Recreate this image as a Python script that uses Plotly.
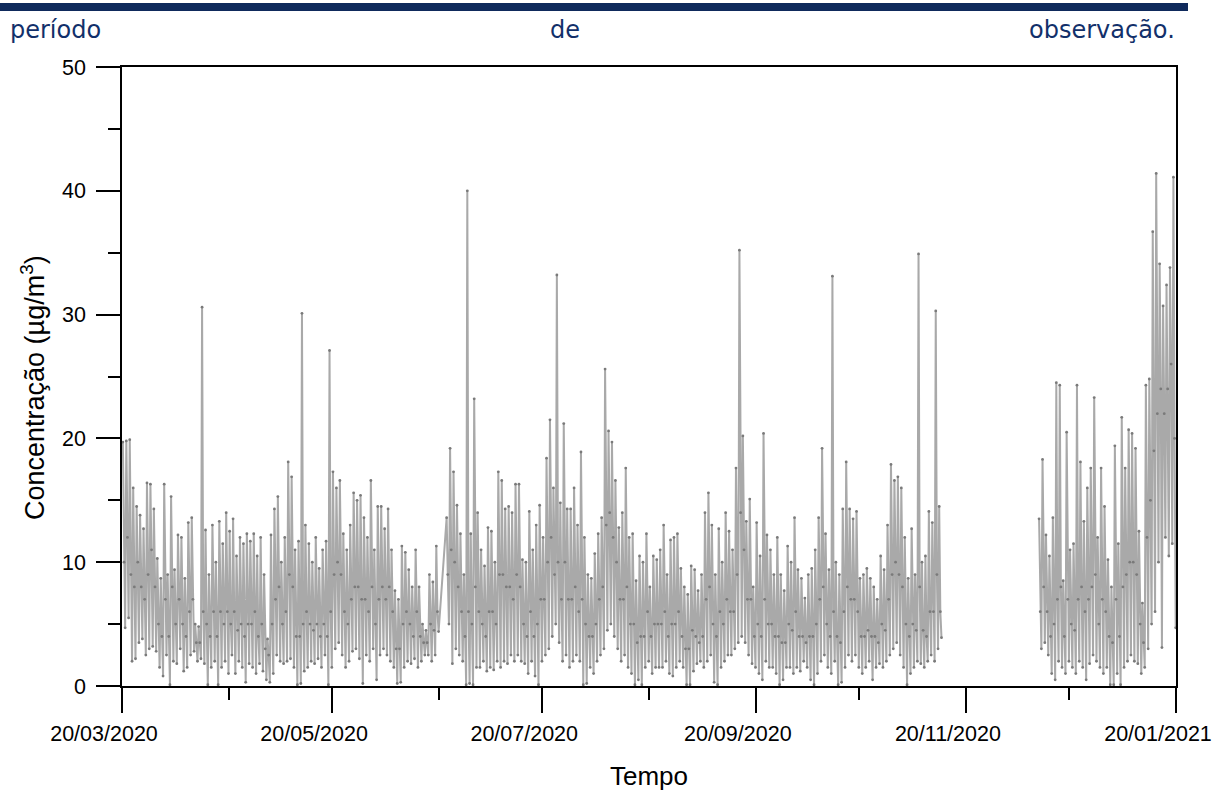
import plotly.graph_objects as go
from datetime import datetime, timedelta

# ---------------- data (daily high / mid / low readings, µg/m3) ----------------
# period 1: 20/03/2020 .. 13/11/2020 (None = missing days, line bridges them)
p1_start = "2020-03-20"
high_p1 = [
    19.7, 19.8, 19.9, 16.0, 14.5, 13.8, 12.7, 16.4, 16.3, 14.3,
    10.3, 8.7, 16.3, 9.0, 15.3, 9.4, 12.2, 12.0, 8.7, 13.2,
    13.6, 5.0, 4.8, 30.6, 12.6, 9.0, 13.0, 10.0, 13.3, 11.5,
    14.0, 12.5, 13.5, 10.5, 12.0, 11.5, 12.3, 11.7, 12.3, 10.5,
    12.0, 9.0, 3.8, 12.2, 14.3, 15.3, 10.0, 12.0, 18.1, 16.9,
    11.0, 11.7, 30.1, 13.0, 11.5, 10.0, 12.0, 9.5, 11.0, 11.7,
    27.1, 17.3, 16.0, 16.6, 12.3, 11.0, 13.0, 15.6, 15.0, 15.4,
    13.6, 12.0, 16.6, 11.0, 14.5, 14.5, 12.7, 14.3, 11.0, 7.7,
    7.0, 11.3, 10.8, 9.4, 8.0, 11.0, 8.0, 5.0, 4.5, 9.0,
    8.4, 11.3, None, None, 13.6, 19.2, 17.3, 14.6, 12.3, 9.0,
    40.0, 12.3, 23.2, 14.0, 11.0, 9.7, 12.8, 12.5, 10.0, 17.3,
    16.6, 14.3, 14.5, 14.0, 16.3, 16.3, 10.2, 10.0, 14.1, 11.0,
    13.0, 14.6, 12.0, 18.4, 21.5, 16.0, 33.2, 14.8, 21.2, 14.3,
    14.3, 16.0, 13.0, 18.9, 12.0, 9.0, 8.7, 10.7, 12.3, 13.6,
    25.6, 20.6, 19.7, 16.6, 12.8, 14.0, 17.6, 12.0, 12.3, 8.5,
    10.5, 10.0, 12.3, 8.0, 10.5, 10.2, 11.0, 13.0, 9.0, 11.8,
    12.0, 12.3, 9.5, 8.0, 7.4, 9.7, 9.4, 7.7, 9.0, 14.0,
    15.6, 13.0, 9.0, 12.7, 10.0, 14.0, 12.5, 11.0, 17.6, 35.2,
    20.2, 13.3, 15.1, 8.0, 13.2, 10.5, 20.4, 12.2, 11.0, 9.0,
    12.0, 9.0, 7.7, 11.3, 10.0, 13.6, 9.4, 8.7, 7.1, 9.0,
    9.5, 11.0, 13.6, 19.2, 12.3, 9.4, 33.1, 10.0, 9.0, 14.3,
    18.1, 14.3, 13.5, 14.1, 8.7, 9.0, 9.5, 8.7, 8.0, 7.0,
    10.5, 9.4, 13.0, 17.9, 16.6, 16.9, 16.0, 12.0, 8.7, 12.7,
    9.0, 34.9, 10.0, 10.5, 14.1, 13.2, 30.3, 14.5,
]
mid_p1 = [
    10, 12, 9, 8, 10, 8, 7, 9, 11, 8,
    5, 4, 7, 4, 8, 5, 7, 5, 4, 6,
    7, 3.5, 3.5, 6, 5, 4, 6, 4, 6, 5,
    6, 5, 6, 4.5, 5, 4, 5, 5, 6, 4,
    5, 3, 2.5, 5, 7, 8, 5, 6, 9, 8,
    4, 4, 5, 6, 5, 4.5, 5, 4, 5, 4,
    6, 9, 10, 9, 6, 5, 7, 8, 8, 7,
    7, 6, 8, 5, 7, 8, 7, 8, 6, 3,
    3, 5, 6, 5, 4, 6, 4, 3.5, 3.5, 5,
    4.5, 6, None, None, 9, 11, 10, 8, 6, 4,
    6, 5, 8, 6, 5, 4, 6, 6, 5, 9,
    9, 8, 8, 7, 9, 8, 5, 4, 6, 4,
    5, 7, 7, 10, 12, 9, 10, 7, 10, 7,
    7, 8, 6, 7, 5, 4, 4, 5, 7, 8,
    13, 14, 12, 10, 7, 7, 8, 5, 5, 3.5,
    4, 4, 6, 4, 5, 5, 5, 6, 4, 5,
    5, 6, 4, 3, 3, 4.5, 4, 3.5, 4, 7,
    8, 5, 4, 6, 5, 7, 6, 6, 9, 14,
    11, 7, 7, 4, 5, 4, 7, 5, 5, 4,
    4, 3.5, 3.5, 5, 4.5, 6, 4, 4, 3.5, 4,
    4, 5, 7, 8, 5, 4, 6, 4, 3.5, 6,
    8, 7, 7, 6, 4, 4, 4.5, 4, 4, 3.5,
    5, 4.5, 7, 9, 10, 9, 8, 5, 4, 5,
    4.5, 8, 4.5, 4, 6, 6, 9, 6,
]
low_p1 = [
    4.7, 5.5, 2.0, 2.2, 3.5, 3.8, 2.5, 3.0, 3.2, 2.8,
    1.5, 0.8, 2.5, 0.1, 2.0, 1.8, 3.0, 1.2, 1.5, 2.5,
    2.8, 2.0, 2.2, 1.8, 0.1, 1.5, 2.0, 0.1, 1.5, 2.0,
    1.0, 2.5, 1.0, 2.0, 1.5, 0.3, 1.8, 1.5, 1.0, 1.8,
    1.2, 0.5, 0.3, 1.0, 2.5, 2.0, 1.8, 2.0, 2.2, 1.5,
    0.1, 0.2, 1.2, 1.5, 2.0, 1.8, 2.2, 1.5, 2.5, 0.1,
    1.5, 3.0, 3.5, 2.5, 1.5, 2.0, 2.8, 3.0, 2.2, 0.2,
    2.5, 2.0, 3.0, 0.5, 2.5, 3.0, 2.5, 2.0, 1.5, 0.2,
    0.3, 1.5, 2.0, 1.8, 2.2, 1.5, 2.0, 2.5, 2.5, 2.0,
    2.5, 4.4, None, None, 5.0, 1.8, 3.0, 2.5, 2.0, 0.1,
    0.2, 0.1, 1.5, 1.5, 2.0, 1.2, 1.5, 1.3, 2.0, 1.5,
    2.0, 1.8, 2.5, 2.0, 2.5, 2.0, 1.8, 1.0, 2.0, 0.8,
    0.1, 2.0, 2.5, 3.0, 4.0, 5.0, 3.5, 2.0, 2.5, 1.5,
    2.0, 2.5, 2.0, 0.1, 0.2, 1.5, 1.0, 2.0, 2.5, 3.0,
    4.5, 5.0, 4.0, 3.0, 2.0, 2.5, 1.5, 1.0, 0.1, 0.5,
    0.1, 1.5, 2.0, 1.0, 1.5, 1.5, 1.5, 2.0, 1.0, 0.8,
    1.5, 2.0, 1.5, 0.1, 0.1, 1.2, 1.8, 2.0, 1.5, 2.0,
    2.5, 0.3, 0.1, 1.5, 2.0, 2.5, 2.5, 3.0, 3.5, 4.0,
    3.5, 2.5, 1.8, 1.5, 1.0, 0.5, 2.0, 1.5, 1.5, 1.0,
    0.1, 0.5, 1.5, 1.5, 1.0, 1.5, 1.2, 2.0, 1.5, 0.5,
    0.1, 1.0, 2.0, 2.5, 1.5, 1.0, 2.0, 0.1, 0.3, 1.5,
    2.5, 2.0, 2.5, 1.5, 1.0, 1.5, 2.0, 0.5, 1.5, 1.8,
    1.5, 2.0, 2.5, 3.0, 3.5, 2.5, 1.5, 0.1, 1.0, 1.5,
    2.0, 1.8, 1.5, 2.0, 2.5, 2.0, 3.0, 3.9,
]

# period 2: 11/12/2020 .. 19/01/2021
p2_start = "2020-12-11"
high_p2 = [
    13.5, 18.3, 12.2, 10.5, 13.6, 24.5, 24.3, 8.5, 20.5, 11.0,
    11.5, 24.3, 18.1, 13.3, 16.0, 17.6, 23.3, 12.0, 17.6, 14.5,
    10.2, 8.0, 19.4, 11.5, 21.7, 17.6, 20.7, 20.4, 19.2, 12.5,
    6.7, 24.3, 24.8, 36.7, 41.4, 34.1, 30.7, 32.4, 33.8, 41.1,
]
mid_p2 = [
    6, 8, 6, 4, 5, 7, 8, 4, 7, 5,
    4.5, 7, 8, 6, 7, 8, 9, 5, 7, 6,
    4, 3.5, 7, 4, 8, 9, 10, 10, 9, 5,
    3.5, 12, 15, 19, 22, 24, 22, 24, 26, 20,
]
low_p2 = [
    3.0, 3.5, 2.5, 1.0, 0.5, 2.0, 1.5, 1.0, 2.0, 1.5,
    1.0, 2.0, 1.5, 0.5, 1.8, 2.5, 2.0, 1.5, 1.0, 1.5,
    0.1, 0.1, 1.0, 0.1, 1.5, 2.0, 2.5, 2.0, 1.8, 1.0,
    1.5, 3.0, 5.0, 6.0, 10.0, 3.1, 12.0, 10.5, 11.5, 4.7,
]

x_tick_dates = ["2020-03-20", "2020-05-20", "2020-07-20", "2020-09-20", "2020-11-20", "2021-01-20"]
x_tick_text = ["20/03/2020", "20/05/2020", "20/07/2020", "20/09/2020", "20/11/2020", "20/01/2021"]
x_minor_dates = ["2020-04-20", "2020-06-20", "2020-08-20", "2020-10-20", "2020-12-20"]
y_tick_vals = [0, 10, 20, 30, 40, 50]
y_minor_vals = [5, 15, 25, 35, 45]
header_words = ["período", "de", "observação."]
y_title = "Concentração (µg/m<sup>3</sup>)"
x_title = "Tempo"

# ---------------- build the series ----------------
reading_hours = (6, 14, 22)


def build(start, highs, mids, lows):
    t0 = datetime.strptime(start, "%Y-%m-%d")
    xs, ys = [], []
    for d, trio in enumerate(zip(highs, mids, lows)):
        for h, v in zip(reading_hours, trio):
            if v is None:
                continue
            xs.append(t0 + timedelta(days=d, hours=h))
            ys.append(v)
    return xs, ys


x1, y1 = build(p1_start, high_p1, mid_p1, low_p1)
x2, y2 = build(p2_start, high_p2, mid_p2, low_p2)
gap_x = x1[-1] + (x2[0] - x1[-1]) / 2
xs = x1 + [gap_x] + x2
ys = y1 + [None] + y2

fig = go.Figure(
    go.Scatter(
        x=xs, y=ys, mode="lines+markers", connectgaps=False,
        line=dict(color="#a9a9a9", width=2.0),
        marker=dict(size=2.8, color="#7a7a7a"),
        showlegend=False, hoverinfo="skip",
    )
)

FONT = "Liberation Sans, Arial, sans-serif"
W, H = 1214, 791
L, R, T, B = 122, 38, 67, 105
pw, ph = W - L - R, H - T - B


def px(xpix):
    return (xpix - L) / pw


def py(ypix):
    return (H - B - ypix) / ph


fig.update_layout(
    width=W, height=H,
    margin=dict(l=L, r=R, t=T, b=B),
    plot_bgcolor="white", paper_bgcolor="white",
    font=dict(family=FONT, color="black"),
    xaxis=dict(
        type="date", range=["2020-03-20", "2021-01-20"],
        tickmode="array", tickvals=x_tick_dates, ticktext=x_tick_text,
        ticks="outside", ticklen=25, tickwidth=1.5, tickcolor="black",
        minor=dict(tickmode="array", tickvals=x_minor_dates, ticks="outside",
                   ticklen=12, tickwidth=1.5, tickcolor="black"),
        tickfont=dict(size=21.5, family=FONT, color="black"),
        ticklabelstandoff=2, ticklabelshift=-18, ticklabeloverflow="allow",
        showline=True, linecolor="black", linewidth=1.5, mirror=True,
        showgrid=False, zeroline=False, automargin=False,
        title=dict(text=x_title, font=dict(size=26, family=FONT, color="black"), standoff=25),
    ),
    yaxis=dict(
        range=[0, 50], tickmode="array", tickvals=y_tick_vals,
        ticks="outside", ticklen=24, tickwidth=1.5, tickcolor="black",
        minor=dict(tickmode="array", tickvals=y_minor_vals, ticks="outside",
                   ticklen=12, tickwidth=1.5, tickcolor="black"),
        tickfont=dict(size=21.5, family=FONT, color="black"),
        ticklabelstandoff=6,
        showline=True, linecolor="black", linewidth=1.5, mirror=True,
        showgrid=False, zeroline=False, automargin=False,
    ),
)

# y-axis title placed as a rotated annotation (slightly below plot centre, as in the source)
fig.add_annotation(text=y_title, xref="paper", yref="paper",
                   x=px(33), y=py(388), xanchor="center", yanchor="middle",
                   textangle=-90, showarrow=False,
                   font=dict(size=27, family=FONT, color="black"))

NAVY = "#12306a"
fig.add_shape(type="rect", xref="paper", yref="paper",
              x0=px(0), x1=px(1188), y0=py(11), y1=py(3),
              fillcolor="#0f2a5c", line=dict(width=0), layer="above")

header_pos = [(8, "left"), (565, "center"), (1177, "right")]
for word, (xp, anchor) in zip(header_words, header_pos):
    fig.add_annotation(text=word, xref="paper", yref="paper",
                       x=px(xp), y=py(30), xanchor=anchor, yanchor="middle",
                       showarrow=False,
                       font=dict(size=24, family="DejaVu Sans", color=NAVY))

fig.write_html("out.html", config={"displayModeBar": False},
               post_script="document.body.style.margin='0';")
